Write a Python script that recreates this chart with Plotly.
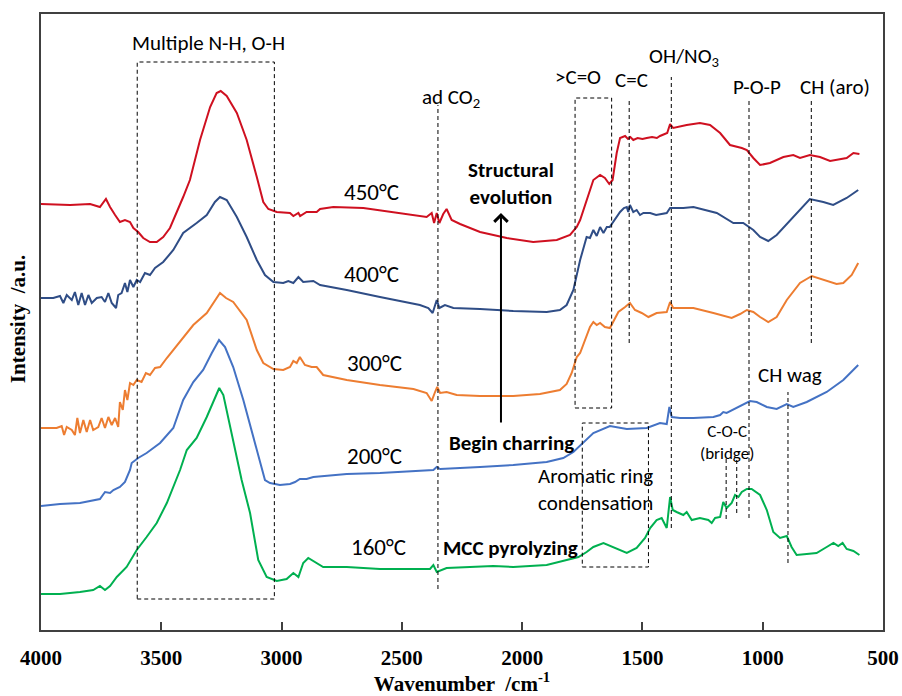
import plotly.graph_objects as go

# ---------------------------------------------------------------------------
# FTIR spectra of MCC char at different pyrolysis temperatures
# wavenumber in cm-1, intensity in arbitrary units (vertically offset)
# ---------------------------------------------------------------------------
wn_450 = [4000, 3879, 3796, 3755, 3730, 3713, 3692, 3672, 3651, 3630, 3616, 3596, 3575, 3547,
          3519, 3492, 3464, 3436, 3409, 3381, 3339, 3297, 3270, 3253, 3228, 3186, 3145, 3103,
          3076, 3055, 3020, 2965, 2951, 2930, 2923, 2896, 2854, 2840, 2785, 2660, 2521, 2397,
          2376, 2366, 2355, 2344, 2328, 2314, 2293, 2258, 2175, 2064, 1954, 1856, 1801, 1773,
          1759, 1732, 1704, 1676, 1656, 1638, 1624, 1607, 1593, 1572, 1560, 1550, 1538, 1520,
          1500, 1482, 1460, 1440, 1427, 1397, 1385, 1372, 1316, 1261, 1219, 1177, 1136, 1087,
          1066, 1039, 1011, 970, 914, 873, 845, 804, 762, 720, 679, 651, 623, 598]
ab_450 = [4.26, 4.25, 4.26, 4.23, 4.31, 4.23, 4.15, 4.08, 4.10, 4.08, 4.02, 3.98, 3.92, 3.88,
          3.88, 3.93, 4.02, 4.17, 4.33, 4.50, 4.90, 5.23, 5.37, 5.39, 5.34, 5.17, 4.90, 4.53,
          4.28, 4.21, 4.18, 4.17, 4.14, 4.17, 4.14, 4.18, 4.18, 4.21, 4.23, 4.22, 4.17, 4.13,
          4.17, 4.07, 4.17, 4.07, 4.16, 4.21, 4.10, 4.06, 3.98, 3.92, 3.88, 3.90, 3.95, 4.03,
          4.10, 4.30, 4.50, 4.55, 4.52, 4.46, 4.50, 4.77, 4.92, 4.94, 4.91, 4.93, 4.90, 4.92,
          4.91, 4.92, 4.93, 4.92, 4.94, 4.97, 5.06, 5.02, 5.05, 5.07, 5.05, 4.97, 4.85, 4.82,
          4.80, 4.72, 4.65, 4.67, 4.73, 4.75, 4.72, 4.75, 4.73, 4.69, 4.71, 4.72, 4.77, 4.76]

wn_400 = [4000, 3949, 3921, 3907, 3893, 3872, 3859, 3845, 3831, 3817, 3803, 3789, 3768, 3748,
          3734, 3720, 3706, 3688, 3679, 3665, 3651, 3641, 3630, 3616, 3602, 3588, 3568, 3547,
          3526, 3492, 3450, 3409, 3353, 3311, 3277, 3256, 3228, 3186, 3145, 3103, 3069, 3034,
          2993, 2972, 2951, 2930, 2910, 2868, 2840, 2729, 2591, 2425, 2390, 2372, 2355, 2344,
          2321, 2286, 2175, 2037, 1898, 1843, 1815, 1787, 1759, 1732, 1718, 1704, 1690, 1676,
          1662, 1648, 1636, 1621, 1607, 1593, 1577, 1565, 1559, 1552, 1538, 1524, 1510, 1496,
          1468, 1443, 1399, 1385, 1330, 1288, 1191, 1122, 1081, 1039, 1011, 977, 942, 873, 804,
          748, 707, 651, 603]
ab_400 = [3.32, 3.32, 3.34, 3.27, 3.35, 3.30, 3.38, 3.25, 3.37, 3.25, 3.35, 3.27, 3.32, 3.33,
          3.28, 3.37, 3.27, 3.22, 3.35, 3.37, 3.47, 3.38, 3.50, 3.43, 3.50, 3.48, 3.57, 3.55,
          3.62, 3.68, 3.80, 3.97, 4.07, 4.15, 4.28, 4.33, 4.30, 4.13, 3.93, 3.70, 3.55, 3.48,
          3.47, 3.49, 3.47, 3.53, 3.48, 3.49, 3.45, 3.40, 3.33, 3.25, 3.22, 3.17, 3.30, 3.22,
          3.25, 3.22, 3.21, 3.19, 3.18, 3.20, 3.25, 3.40, 3.70, 3.93, 3.92, 4.00, 3.94, 4.03,
          3.97, 4.03, 4.03, 4.08, 4.13, 4.18, 4.22, 4.23, 4.18, 4.25, 4.18, 4.20, 4.15, 4.17,
          4.17, 4.15, 4.17, 4.22, 4.22, 4.23, 4.17, 4.07, 4.07, 4.00, 3.93, 3.89, 3.95, 4.13, 4.31,
          4.28, 4.25, 4.32, 4.40]

wn_300 = [4000, 3935, 3914, 3904, 3893, 3872, 3859, 3849, 3838, 3824, 3810, 3796, 3783, 3762,
          3748, 3734, 3720, 3706, 3692, 3679, 3672, 3660, 3651, 3641, 3630, 3616, 3602, 3582,
          3564, 3547, 3526, 3505, 3477, 3450, 3436, 3394, 3367, 3311, 3281, 3256, 3231, 3201,
          3145, 3103, 3076, 3034, 2993, 2965, 2951, 2937, 2924, 2903, 2875, 2854, 2827, 2729,
          2591, 2452, 2397, 2376, 2362, 2353, 2341, 2314, 2272, 2175, 2037, 1926, 1843, 1815,
          1794, 1773, 1759, 1732, 1718, 1704, 1690, 1676, 1656, 1635, 1621, 1600, 1572, 1552,
          1531, 1503, 1475, 1441, 1399, 1385, 1372, 1288, 1205, 1129, 1094, 1066, 1039, 1011,
          977, 942, 900, 845, 796, 748, 693, 665, 630, 603]
ab_300 = [2.02, 2.02, 2.04, 1.95, 2.03, 2.00, 1.95, 2.12, 1.97, 2.10, 1.98, 2.10, 2.00, 2.03,
          2.12, 2.02, 2.13, 2.05, 2.12, 2.03, 2.28, 2.20, 2.40, 2.30, 2.47, 2.45, 2.50, 2.48,
          2.57, 2.55, 2.62, 2.63, 2.72, 2.80, 2.85, 2.97, 3.05, 3.17, 3.28, 3.37, 3.32, 3.28,
          3.10, 2.80, 2.67, 2.61, 2.60, 2.63, 2.69, 2.67, 2.73, 2.65, 2.63, 2.63, 2.55, 2.50,
          2.45, 2.41, 2.37, 2.29, 2.38, 2.43, 2.37, 2.38, 2.35, 2.34, 2.34, 2.36, 2.40, 2.46,
          2.57, 2.73, 2.77, 2.93, 3.03, 3.08, 3.05, 3.07, 3.03, 3.02, 3.08, 3.18, 3.23, 3.27,
          3.20, 3.17, 3.13, 3.17, 3.18, 3.28, 3.22, 3.22, 3.17, 3.12, 3.16, 3.20, 3.18, 3.13,
          3.08, 3.13, 3.30, 3.47, 3.54, 3.50, 3.46, 3.47, 3.55, 3.67]

wn_200 = [4000, 3921, 3838, 3755, 3734, 3713, 3699, 3672, 3651, 3630, 3623, 3596, 3561, 3505,
          3450, 3409, 3367, 3326, 3290, 3260, 3235, 3201, 3159, 3118, 3083, 3069, 3048, 3007,
          2965, 2944, 2924, 2896, 2868, 2729, 2591, 2452, 2369, 2355, 2341, 2175, 2037, 1898,
          1829, 1787, 1746, 1704, 1635, 1565, 1482, 1427, 1399, 1388, 1378, 1344, 1288, 1205,
          1177, 1164, 1150, 1094, 1053, 1025, 983, 942, 900, 873, 817, 734, 665, 603]
ab_200 = [1.24, 1.26, 1.27, 1.31, 1.38, 1.37, 1.40, 1.43, 1.48, 1.60, 1.67, 1.72, 1.77, 1.87,
          2.02, 2.30, 2.48, 2.60, 2.77, 2.90, 2.83, 2.63, 2.30, 1.93, 1.60, 1.50, 1.47, 1.45,
          1.46, 1.48, 1.51, 1.51, 1.53, 1.56, 1.57, 1.59, 1.60, 1.63, 1.61, 1.63, 1.65, 1.68,
          1.72, 1.78, 1.87, 1.97, 2.04, 2.01, 2.02, 2.07, 2.06, 2.23, 2.13, 2.12, 2.12, 2.13,
          2.15, 2.18, 2.17, 2.24, 2.29, 2.28, 2.23, 2.21, 2.26, 2.23, 2.28, 2.38, 2.50, 2.65]

wn_160 = [4000, 3921, 3838, 3783, 3755, 3734, 3713, 3685, 3644, 3602, 3561, 3519, 3477, 3450,
          3422, 3394, 3353, 3311, 3277, 3259, 3242, 3214, 3186, 3166, 3131, 3097, 3062, 3020,
          2979, 2951, 2930, 2910, 2889, 2861, 2840, 2827, 2729, 2591, 2452, 2383, 2369, 2355,
          2314, 2230, 2120, 2037, 1898, 1815, 1766, 1732, 1704, 1662, 1621, 1565, 1524, 1489,
          1468, 1441, 1420, 1399, 1385, 1374, 1358, 1330, 1316, 1295, 1261, 1226, 1212, 1198,
          1177, 1164, 1150, 1129, 1115, 1101, 1087, 1066, 1046, 1011, 983, 956, 928, 900, 880,
          859, 817, 776, 734, 706, 686, 668, 651, 623, 598]
ab_160 = [0.36, 0.36, 0.38, 0.40, 0.44, 0.40, 0.44, 0.53, 0.63, 0.80, 0.93, 1.07, 1.27, 1.43,
          1.60, 1.80, 1.92, 2.13, 2.33, 2.42, 2.35, 2.03, 1.70, 1.50, 1.17, 0.70, 0.53, 0.49,
          0.51, 0.57, 0.53, 0.67, 0.72, 0.68, 0.65, 0.63, 0.63, 0.61, 0.61, 0.61, 0.65, 0.58,
          0.62, 0.63, 0.64, 0.63, 0.65, 0.70, 0.73, 0.78, 0.83, 0.87, 0.83, 0.77, 0.82, 0.92,
          1.02, 1.10, 1.12, 1.02, 1.33, 1.20, 1.18, 1.15, 1.18, 1.10, 1.12, 1.10, 1.07, 1.12,
          1.13, 1.28, 1.22, 1.27, 1.35, 1.33, 1.38, 1.41, 1.41, 1.35, 1.20, 0.98, 0.92, 0.94, 0.83,
          0.75, 0.76, 0.77, 0.83, 0.87, 0.84, 0.87, 0.81, 0.79, 0.75]

temps = ["450°C", "400°C", "300°C", "200°C", "160°C"]
x_ticks = [4000, 3500, 3000, 2500, 2000, 1500, 1000, 500]

# Band assignments (cm-1)
band_co2 = 2350
band_cc = 1555
band_oh_no3 = 1380
band_pop = 1057
band_ch_aro = 798
band_ch_wag = 895
band_coc = [1152, 1108]
region_nh_oh = (3600, 3030)
region_co = (1780, 1628)
region_arom = (1750, 1475)

# ---------------------------------------------------------------------------
colors = ["#CF1020", "#2F4D86", "#ED7D31", "#4472C4", "#00B050"]
series = [(wn_450, ab_450), (wn_400, ab_400), (wn_300, ab_300), (wn_200, ab_200), (wn_160, ab_160)]

fig = go.Figure()
for (wn, ab), name, col in zip(series, temps, colors):
    fig.add_trace(go.Scatter(x=wn, y=ab, mode="lines", name=name,
                             line=dict(color=col, width=2), hoverinfo="skip"))

SANS = "Carlito, Calibri, Lato, sans-serif"
SERIF = "Liberation Serif, Times New Roman, serif"
DASH = "4px,3px"


def vline(x, y0, y1):
    fig.add_shape(type="line", xref="x", yref="y", x0=x, x1=x, y0=y0, y1=y1,
                  line=dict(color="black", width=1, dash=DASH))


def box(xr, y0, y1):
    fig.add_shape(type="rect", xref="x", yref="y", x0=xr[0], x1=xr[1], y0=y0, y1=y1,
                  line=dict(color="black", width=1, dash=DASH), fillcolor="rgba(0,0,0,0)")


box(region_nh_oh, 0.31, 5.68)
box(region_co, 2.22, 5.32)
box(region_arom, 0.63, 2.07)
vline(band_co2, 0.41, 5.25)
vline(band_cc, 2.87, 5.32)
vline(band_oh_no3, 1.02, 5.53)
vline(band_pop, 1.12, 5.32)
vline(band_ch_aro, 2.87, 5.32)
vline(band_ch_wag, 0.67, 2.38)
vline(band_coc[0], 1.11, 1.73)
vline(band_coc[1], 1.17, 1.73)


def label(x, y, text, size=21, bold=False):
    fig.add_annotation(x=x, y=y, xref="x", yref="y", text=f"<b>{text}</b>" if bold else text,
                       showarrow=False, font=dict(family=SANS, size=size, color="black"),
                       xanchor="center", yanchor="middle")


label(3304, 5.87, "Multiple N-H, O-H")
label(2296, 5.32, "ad CO<sub>2</sub>")
label(1768, 5.53, "&gt;C=O")
label(1547, 5.50, "C=C")
label(1327, 5.73, "OH/NO<sub>3</sub>")
label(1024, 5.43, "P-O-P")
label(700, 5.43, "CH (aro)")
label(2046, 4.47, "Structural<br>evolution", bold=True)
label(2046, 1.87, "Begin charring", bold=True)
label(2050, 0.82, "MCC pyrolyzing", bold=True)
label(1695, 1.41, "Aromatic ring<br>condensation")
label(1148, 1.88, "C-O-C<br>(bridge)", size=17)
label(886, 2.55, "CH wag")

temp_pos = [(2628, 4.38), (2628, 3.56), (2612, 2.67), (2612, 1.74), (2599, 0.83)]
for t, (x, y) in zip(temps, temp_pos):
    label(x, y, t, size=23)

# arrow for structural evolution
fig.add_annotation(x=2088, y=4.17, ax=2088, ay=2.06, xref="x", yref="y", axref="x", ayref="y",
                   text="", showarrow=True, arrowhead=4, arrowsize=1.3, arrowwidth=2,
                   arrowcolor="black")

# y axis title
fig.add_annotation(x=-0.027, y=0.505, xref="paper", yref="paper", text="<b>Intensity  /a.u.</b>",
                   textangle=-90, showarrow=False, xanchor="center", yanchor="middle",
                   font=dict(family=SERIF, size=21, color="black"))

fig.update_layout(
    template="none",
    width=902, height=696,
    margin=dict(l=41, r=19, t=14, b=66, autoexpand=False),
    paper_bgcolor="white", plot_bgcolor="white",
    showlegend=False,
    xaxis=dict(range=[4000, 500], tickvals=x_ticks, ticktext=[f"<b>{v}</b>" for v in x_ticks],
               ticks="inside", ticklen=8, tickwidth=2, tickcolor="#404040",
               showline=True, linecolor="#404040", linewidth=2, mirror=True,
               showgrid=False, zeroline=False, ticklabelstandoff=8, automargin=False,
               tickfont=dict(family=SERIF, size=21, color="black"),
               title=dict(text="<b>Wavenumber  /cm<sup>-1</sup></b>", standoff=14,
                          font=dict(family=SERIF, size=21, color="black"))),
    yaxis=dict(range=[0, 6.16], showticklabels=False, ticks="", automargin=False,
               showline=True, linecolor="#404040", linewidth=2, mirror=True,
               showgrid=False, zeroline=False),
)

fig.write_html("out.html")
